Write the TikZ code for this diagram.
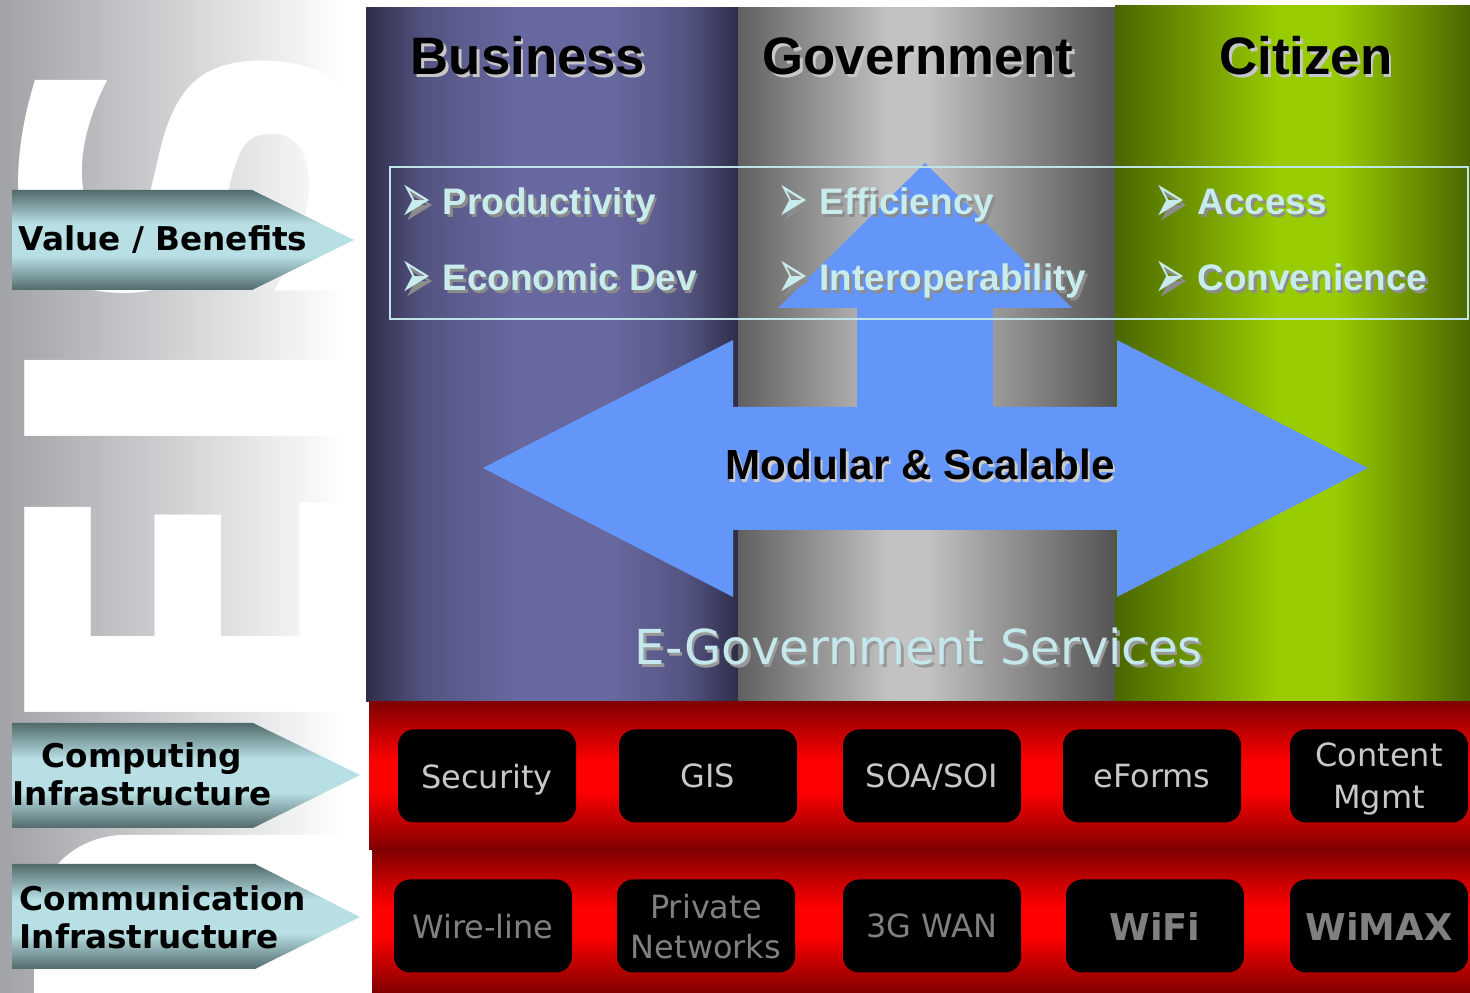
\documentclass[tikz,border=0pt]{standalone}
\usepackage{fontspec}
\setmainfont{Liberation Sans}
\newfontfamily\verdana{DejaVu Sans}
\usepackage{tikz}
\usetikzlibrary{calc}

% colours
\definecolor{wmgray}{RGB}{160,162,166}
\definecolor{busdark}{RGB}{46,46,74}
\definecolor{busmid}{RGB}{84,84,130}
\definecolor{buslight}{RGB}{104,104,160}
\definecolor{govleft}{RGB}{96,96,96}
\definecolor{govdark}{RGB}{84,84,84}
\definecolor{govlight}{RGB}{194,194,194}
\definecolor{citdark}{RGB}{74,102,0}
\definecolor{citlight}{RGB}{153,204,0}
\definecolor{reddark}{RGB}{128,0,0}
\definecolor{redlight}{RGB}{255,0,0}
\definecolor{tealdark}{RGB}{82,106,108}
\definecolor{teallight}{RGB}{184,224,228}
\definecolor{arrowblue}{RGB}{100,150,250}
\definecolor{valuecyan}{RGB}{200,236,236}
\definecolor{egovcyan}{RGB}{196,232,236}
\definecolor{boxline}{RGB}{190,228,232}

% shadings
\pgfdeclarehorizontalshading{wmshade}{100bp}{color(0bp)=(wmgray); color(25bp)=(wmgray); color(72bp)=(white); color(100bp)=(white)}
\pgfdeclarehorizontalshading{busshade}{100bp}{color(0bp)=(busdark); color(25bp)=(busdark); color(33bp)=(busmid); color(45bp)=(buslight); color(58bp)=(buslight); color(68bp)=(busmid); color(75bp)=(busdark); color(100bp)=(busdark)}
\pgfdeclarehorizontalshading{govshade}{100bp}{color(0bp)=(govleft); color(25bp)=(govleft); color(45bp)=(govlight); color(50bp)=(govlight); color(75bp)=(govdark); color(100bp)=(govdark)}
\pgfdeclarehorizontalshading{citshade}{100bp}{color(0bp)=(citdark); color(25bp)=(citdark); color(48bp)=(citlight); color(56bp)=(citlight); color(75bp)=(citdark); color(100bp)=(citdark)}
\pgfdeclareverticalshading{redshade}{100bp}{color(0bp)=(reddark); color(25bp)=(reddark); color(45bp)=(redlight); color(55bp)=(redlight); color(75bp)=(reddark); color(100bp)=(reddark)}
\pgfdeclareverticalshading{tealshade}{100bp}{color(0bp)=(tealdark); color(25bp)=(tealdark); color(42bp)=(teallight); color(58bp)=(teallight); color(75bp)=(tealdark); color(100bp)=(tealdark)}

% text with a drop shadow: name, position, style, shadow colour, text
\newcommand{\shadowtext}[5]{%
  \node[#3, text=#4, xshift=0.25mm, yshift=-0.25mm] (#1sh) at #2 {#5};
  \node[#3] (#1) at #2 {#5};}

\begin{document}
\begin{tikzpicture}[x=0.1mm, y=-0.1mm,
  head/.style={font=\fontsize{15}{15}\selectfont\bfseries, inner sep=0, anchor=base},
  item/.style={font=\fontsize{10.5}{10.5}\selectfont\bfseries, text=valuecyan, inner sep=0, anchor=base west},
  bullet/.style={font=\verdana\fontsize{10.5}{10.5}\selectfont, text=valuecyan, inner sep=0, yscale=1.9, anchor=center},
  modlbl/.style={font=\fontsize{12}{12}\selectfont\bfseries, inner sep=0, anchor=base},
  egov/.style={font=\verdana\fontsize{13.7}{13.7}\selectfont, text=egovcyan, inner sep=0, anchor=base},
  arrowlbl/.style={font=\verdana\bfseries\fontsize{9.3}{9.3}\selectfont, inner sep=0},
  modbox/.style={fill=black, rounded corners=1.6mm, minimum width=17.8mm, minimum height=9.3mm, inner sep=0, text depth=0pt, align=center},
  compbox/.style={modbox, text=black!22, font=\verdana\fontsize{9.1}{12}\selectfont},
  commbox/.style={modbox, text=black!50, font=\verdana\fontsize{9.1}{11.4}\selectfont},
  wmletters/.style={font=\verdana\bfseries\fontsize{115}{115}\selectfont, text=white, inner sep=0}]
\useasboundingbox (0,0) rectangle (1470,993);

% Watermark behind the left labels
\begin{scope}
\clip (0,0) rectangle (366,993);
\shade[shading=wmshade] (0,0) rectangle (366,993);
\node[wmletters, rotate=90, yscale=1.16, anchor=base west] (wm) at (366,750) {EIS};
\fill[white, rounded corners=9mm] (34,835) rectangle (420,1200);
\end{scope}

% Columns
\shade[shading=busshade] (366,8) rectangle (738,702);
\shade[shading=govshade] (738,8) rectangle (1115,702);
\shade[shading=citshade] (1115,6) rectangle (1470,702);

% Infrastructure band
\shade[shading=redshade] (369,702) rectangle (1470,850);
\shade[shading=redshade] (372,850) rectangle (1470,993);

% Big arrow
\fill[arrowblue] (483,468) -- (733,340) -- (733,407) -- (857,407) -- (857,308)
  -- (778,308) -- (925,163) -- (1072,308) -- (993,308) -- (993,407) -- (1117,407)
  -- (1117,340) -- (1368,468) -- (1117,597) -- (1117,530) -- (733,530) -- (733,597) -- cycle;

% Value box
\draw[boxline, line width=0.2mm] (390,167) rectangle (1468,319);

% Headings
\shadowtext{business}{(528,75)}{head}{black!22}{Business}
\shadowtext{government}{(918,75)}{head}{black!22}{Government}
\shadowtext{citizen}{(1306,75)}{head}{black!22}{Citizen}

% Values
\shadowtext{bulA}{(416,204)}{bullet}{black!45}{➢}
\shadowtext{bulB}{(416,280)}{bullet}{black!45}{➢}
\shadowtext{bulC}{(793,204)}{bullet}{black!45}{➢}
\shadowtext{bulD}{(793,280)}{bullet}{black!45}{➢}
\shadowtext{bulE}{(1170,204)}{bullet}{black!45}{➢}
\shadowtext{bulF}{(1170,280)}{bullet}{black!45}{➢}
\shadowtext{productivity}{(442,215)}{item}{black!45}{Productivity}
\shadowtext{econdev}{(442,291)}{item}{black!45}{Economic Dev}
\shadowtext{efficiency}{(819,215)}{item}{black!45}{Efficiency}
\shadowtext{interop}{(819,291)}{item}{black!45}{Interoperability}
\shadowtext{access}{(1197,215)}{item}{black!45}{Access}
\shadowtext{convenience}{(1197,291)}{item}{black!45}{Convenience}

% Arrow and services labels
\shadowtext{modular}{(920,480)}{modlbl}{black!20}{Modular \& Scalable}
\shadowtext{egovsvc}{(919,665)}{egov}{black!40}{E-Government Services}

% Layer arrows
\shade[shading=tealshade] (12,190) -- (252,190) -- (354,240) -- (252,290) -- (12,290) -- cycle;
\shade[shading=tealshade] (12,723) -- (253,723) -- (360,775) -- (253,828) -- (12,828) -- cycle;
\shade[shading=tealshade] (12,864) -- (255,864) -- (360,917) -- (255,969) -- (12,969) -- cycle;
\node[arrowlbl, anchor=base west] (valuelbl) at (18,251) {Value / Benefits};
\node[arrowlbl, anchor=base] (complblA) at (142,768) {Computing};
\node[arrowlbl, anchor=base] (complblB) at (142,806) {Infrastructure};
\node[arrowlbl, anchor=base west] (commlblA) at (19,911) {Communication};
\node[arrowlbl, anchor=base west] (commlblB) at (19,949) {Infrastructure};

% Computing modules
\node[compbox] (security) at (487,776) {Security};
\node[compbox] (gis) at (708,776) {GIS};
\node[compbox] (soa) at (932,776) {SOA/SOI};
\node[compbox] (eforms) at (1152,776) {eForms};
\node[compbox] (content) at (1379,776) {Content\\Mgmt};

% Communication modules
\node[commbox] (wireline) at (483,926) {Wire-line};
\node[commbox] (private) at (706,926) {Private\\Networks};
\node[commbox] (wan) at (932,926) {3G WAN};
\node[commbox, font=\verdana\bfseries\fontsize{10.5}{10.5}\selectfont] (wifi) at (1155,926) {WiFi};
\node[commbox, font=\verdana\bfseries\fontsize{10.5}{10.5}\selectfont] (wimax) at (1379,926) {WiMAX};
\end{tikzpicture}
\end{document}
